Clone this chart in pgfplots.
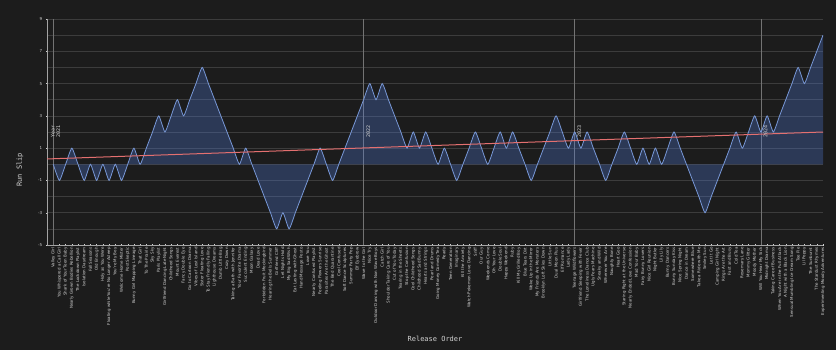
\documentclass[border=0pt]{standalone}
\usepackage{fontspec}
\setmainfont{DejaVu Sans}
\newfontfamily\monofont{DejaVu Sans Mono}
\usepackage{pgfplots}
\usepackage{pgfplotstable}
\pgfplotsset{compat=1.18}
\definecolor{bg}{RGB}{28,28,28}
\definecolor{gridc}{RGB}{60,60,60}
\definecolor{txt}{RGB}{210,210,210}
\definecolor{linec}{RGB}{120,152,215}
\definecolor{fillc}{RGB}{80,120,210}
\definecolor{trend}{RGB}{228,112,112}
\definecolor{yearc}{RGB}{115,115,115}

\pgfplotstableread{
x y
0 0
1 -1
2 0
3 1
4 0
5 -1
6 0
7 -1
8 0
9 -1
10 0
11 -1
12 0
13 1
14 0
15 1
16 2
17 3
18 2
19 3
20 4
21 3
22 4
23 5
24 6
25 5
26 4
27 3
28 2
29 1
30 0
31 1
32 0
33 -1
34 -2
35 -3
36 -4
37 -3
38 -4
39 -3
40 -2
41 -1
42 0
43 1
44 0
45 -1
46 0
47 1
48 2
49 3
50 4
51 5
52 4
53 5
54 4
55 3
56 2
57 1
58 2
59 1
60 2
61 1
62 0
63 1
64 0
65 -1
66 0
67 1
68 2
69 1
70 0
71 1
72 2
73 1
74 2
75 1
76 0
77 -1
78 0
79 1
80 2
81 3
82 2
83 1
84 2
85 1
86 2
87 1
88 0
89 -1
90 0
91 1
92 2
93 1
94 0
95 1
96 0
97 1
98 0
99 1
100 2
101 1
102 0
103 -1
104 -2
105 -3
106 -2
107 -1
108 0
109 1
110 2
111 1
112 2
113 3
114 2
115 3
116 2
117 3
118 4
119 5
120 6
121 5
122 6
123 7
124 8
}\slipdata

\begin{document}
\begin{tikzpicture}
\useasboundingbox (0,0) rectangle (836pt,350pt);
\fill[bg] (0,0) rectangle (836pt,350pt);
\begin{axis}[
  at={(47pt,105pt)}, anchor=south west,
  scale only axis, width=776pt, height=226pt,
  xmin=-1, xmax=124, ymin=-5, ymax=9,
  axis x line*=bottom, axis y line*=left,
  axis line style={txt!75!bg, line width=0.6pt},
  xtick={0,...,124},
  xticklabels={Valley Girl,You Whispered a Call Girl,Shark of Your Teen Baby,Nearly Grown Bodies Rebellion,The Lockdown Playlist,Isolation Daydream,Fall Seasons,Old Enough,Holy as You Were,Floating while You're No Longer Asleep,You're My Boy,Welcome Home Mister,Post Skeptic,Bunny Girl Mapping Lineage,That Girl,To The Prairie,Sky Sky,Paris Playlist,Girlfriend Dancing Late Night,Childhood Songs,Mount Everest,Fancy Double Eye,Go to Cartoon Drama,Vibes of Lost Island,Sister Floating Love,To Stay Friendly Falling,Lighthouse Dreams,Dumb Little Bag,Cozy Down,Taking a Bath with Jennifer,Your Favorite Drama,Succulent Ending,Moon Galaxy,Dead Love,Forbidden Fruit Mockingbird,Hearing the Bells Summer,Girlfriend Cliff,Let Nights Hold,My Big Sad Wish,Eat Lasting with Ghost,Hand Message Pesto,Love You,Nearly Confused Playlist,Feeling Flowers Sunrise,Parasites Are the Ghost,The Bed Quarantine,Cool Confused,Soft Dance Sculptures,Summer Party Pop,Elf Eyebrow,Wave to the Girl,Nice Try,Outdoor Dancing with Non Wave Boys,Catch Girl,Shoulder Taking Care of You,Cut of You Today,Tearing in the Sheets,Stop the Confusion,Cool Childhood Songs,Childhood Sad Bunny,Hearts and Strings,Pearl and Drums,Going Money Comedy Tea,Ready,Teen Generation,Imaginary,Kill the Anxiety,Watch Pokemon Love Dancing,Sniff,Our Guy,Weekends Come,Oh Your Love,Double Soul,Happy Weekend,Ruby,Kill My Grilled Boy,Blue Tears Dirt,Woke Up in the Mirror,My Friends Are Monsters,Brooklyn Loft Skies Down,Little Sun,Dual Moon Plus,Elf Romance,Lady Lady,Teenage Wildflowers,Girlfriend Sleeping with Fever,The Loneliness Dance Club,Ugly Fears Machine,Sneaky and Wild,Wherever You Are,Naughty Bone,Heart Goo,Staring Right at the Universe,Nearly Ended Love Confession,Mad Your Baby,Fairy Bunny Lovers,Nice Girl Reunion,Night Butler,Lily Lily,Bunny Dancers,Bunny Sunday Kiss,Nice Spring Night,Dance in Dream,Somewhere Blue,Take a Ride with Me,Smiley Sun,Let It Go,Camping Girl Night,Rings Are the Art,Fast and Busy,Cold Tea,Rosemary Lane,Mommy Glitter,Moody Mother,Will You Hear My Sick,Midnight Drama,Taking Care of Business,When You Are in the Full Attack,A Night with a Black Lion,Sensual Mumbling Ice Cream Song,Tee Pie,Lil Poppy,The Sunburnt,The Stardust Rhymes,Experimenting Moody Adventures},
  x tick label style={rotate=90, anchor=east, font=\fontsize{4}{4}\selectfont, text=txt, inner sep=1pt},
  ytick={-5,-3,...,9}, minor ytick={-4,-2,...,8},
  ymajorgrids, yminorgrids,
  major grid style={gridc, line width=0.5pt},
  minor grid style={gridc, line width=0.5pt},
  y tick label style={font=\fontsize{4}{4}\selectfont, text=txt},
  /pgf/number format/assume math mode=true,
  tick style={txt, line width=0.4pt},
  tick align=center,
  major tick length=2.5pt,
  minor tick length=0pt,
  xlabel={\monofont Release Order},
  ylabel={\monofont Run Slip},
  label style={text=txt, font=\fontsize{7}{8}\selectfont},
  xlabel style={at={(axis description cs:0.5,-0.416)}, anchor=center},
  ylabel style={at={(axis description cs:-0.0348,0.332)}, anchor=center},
  clip=true,
]
\addplot[yearc, line width=0.8pt] coordinates {(0,-5) (0,9)};
\addplot[yearc, line width=0.8pt] coordinates {(50,-5) (50,9)};
\addplot[yearc, line width=0.8pt] coordinates {(84,-5) (84,9)};
\addplot[yearc, line width=0.8pt] coordinates {(114,-5) (114,9)};
\addplot[draw=none, fill=fillc, fill opacity=0.32, smooth, tension=0.3] table[x=x,y=y] {\slipdata} \closedcycle;
\addplot[linec, line width=0.8pt, smooth, tension=0.3] table[x=x,y=y] {\slipdata};
\addplot[trend, line width=1pt] coordinates {(-1,0.33) (124,2.0)};
\node[rotate=90, text=txt, font=\monofont\fontsize{5}{5.5}\selectfont, align=center] at (axis cs:0.4,2.06) {Year\\2021};
\node[rotate=90, text=txt, font=\monofont\fontsize{5}{5.5}\selectfont] at (axis cs:50.75,2.06) {2022};
\node[rotate=90, text=txt, font=\monofont\fontsize{5}{5.5}\selectfont] at (axis cs:84.75,2.06) {2023};
\node[rotate=90, text=txt, font=\monofont\fontsize{5}{5.5}\selectfont] at (axis cs:114.75,2.06) {2024};
\end{axis}
\end{tikzpicture}
\end{document}
